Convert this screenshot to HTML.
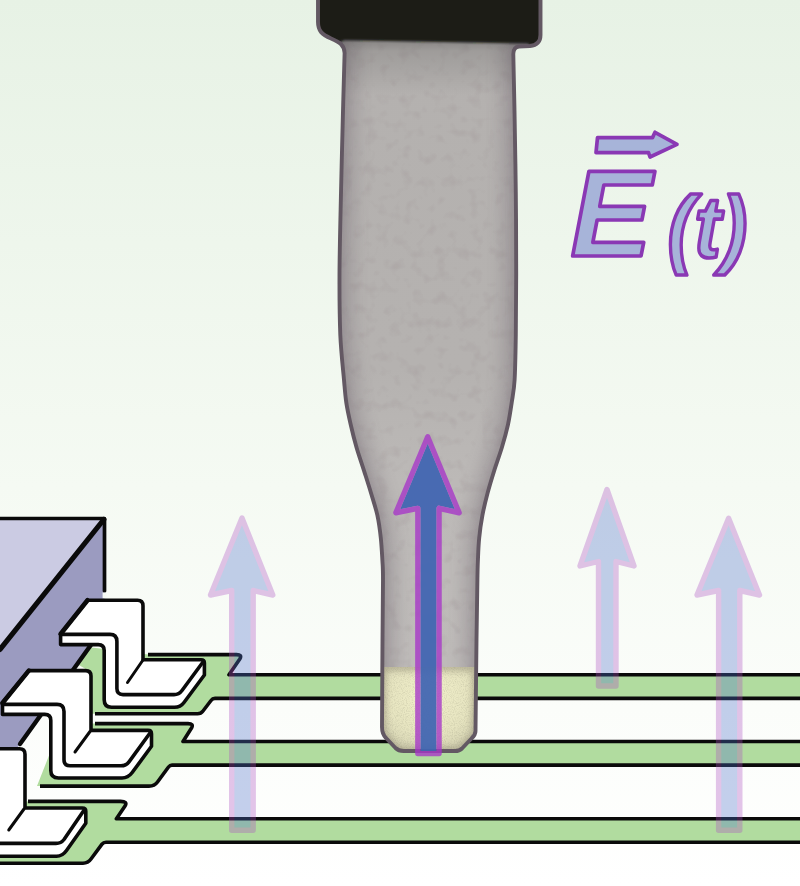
<!DOCTYPE html>
<html>
<head>
<meta charset="utf-8">
<title>E(t) probe diagram</title>
<style>
html,body{margin:0;padding:0;background:#fff;}
body{width:800px;height:886px;overflow:hidden;font-family:"Liberation Sans",sans-serif;}
svg{display:block;position:absolute;left:0;top:0;}
.mul{mix-blend-mode:multiply;}
</style>
</head>
<body>
<svg width="800" height="886" viewBox="0 0 800 886">
<defs>
  <linearGradient id="bg" x1="0" y1="0" x2="0" y2="1">
    <stop offset="0" stop-color="#e7f2e5"/>
    <stop offset="0.55" stop-color="#f5faf3"/>
    <stop offset="0.8" stop-color="#fbfdfa"/>
    <stop offset="1" stop-color="#ffffff"/>
  </linearGradient>
  <linearGradient id="probeG" gradientUnits="userSpaceOnUse" x1="0" y1="40" x2="0" y2="752">
    <stop offset="0" stop-color="#b4b1af"/>
    <stop offset="0.46" stop-color="#b5b2b0"/>
    <stop offset="0.62" stop-color="#bcb9b7"/>
    <stop offset="1" stop-color="#bfbcba"/>
  </linearGradient>
  <linearGradient id="shade" x1="0" y1="0" x2="0" y2="1">
    <stop offset="0" stop-color="#000" stop-opacity="0.3"/>
    <stop offset="0.25" stop-color="#000" stop-opacity="0.12"/>
    <stop offset="1" stop-color="#000" stop-opacity="0"/>
  </linearGradient>
  <radialGradient id="cream" cx="0.5" cy="0.35" r="0.75">
    <stop offset="0" stop-color="#f1efca"/>
    <stop offset="0.6" stop-color="#e6e4c0"/>
    <stop offset="1" stop-color="#cfcdae"/>
  </radialGradient>
  <filter id="soft" x="-5%" y="-5%" width="110%" height="110%"><feGaussianBlur stdDeviation="0.6"/></filter>
  <filter id="soft1" x="-5%" y="-5%" width="110%" height="110%"><feGaussianBlur stdDeviation="1"/></filter>
  <filter id="soft8" x="-15%" y="-15%" width="130%" height="130%"><feGaussianBlur stdDeviation="7"/></filter>
  <filter id="soft3" x="-10%" y="-10%" width="120%" height="120%"><feGaussianBlur stdDeviation="3"/></filter>
  <filter id="grain" x="0" y="0" width="100%" height="100%" color-interpolation-filters="sRGB">
    <feTurbulence type="fractalNoise" baseFrequency="0.9" numOctaves="2" seed="3" result="n"/>
    <feColorMatrix type="matrix" values="0 0 0 0 0  0 0 0 0 0  0 0 0 0 0  0.9 0 0 0 -0.38"/>
  </filter>
  <filter id="mottle" x="0" y="0" width="100%" height="100%" color-interpolation-filters="sRGB">
    <feTurbulence type="fractalNoise" baseFrequency="0.085" numOctaves="2" seed="11" result="n"/>
    <feColorMatrix type="matrix" values="0 0 0 0 0.60  0 0 0 0 0.55  0 0 0 0 0.56  3 0 0 0 -1.58"/>
  </filter>
  <clipPath id="clipUnion"><path d="M318,-6 L318,22 C318,31 322,34.5 331,38.5 C340,42.5 344.3,45 344.6,53 C344.3,62.7 343.6,87.7 343.0,111.0 C342.4,134.3 341.6,165.8 341.0,193.0 C340.4,220.2 339.6,250.3 339.5,274.0 C339.4,297.7 339.6,317.3 340.3,335.0 C341.1,352.7 343.0,368.7 344.0,380.0 C345.0,391.3 345.2,395.1 346.3,402.6 C347.4,410.1 349.1,417.5 350.8,425.0 C352.5,432.5 354.4,440.1 356.6,447.7 C358.8,455.2 361.5,462.8 363.9,470.3 C366.3,477.9 368.8,485.5 371.0,493.0 C373.2,500.5 375.8,507.9 377.4,515.4 C379.0,522.9 380.0,530.5 380.8,538.0 C381.6,545.5 382.0,553.6 382.4,560.6 C382.8,567.6 383.0,566.8 383.0,580.0 C383.0,593.2 382.7,615.5 382.5,640.0 C382.3,664.5 382.1,712.5 382.0,727.0 Q382,734 386,738 L395.5,748 Q398.5,751 403.5,751 L455,751 Q459.5,751 462,748.5 L471.5,738.5 Q475.5,735 475.5,731 C475.7,715.8 476.2,665.2 476.5,640.0 C476.8,614.8 477.2,593.2 477.4,580.0 C477.6,566.8 477.6,567.6 477.9,560.6 C478.2,553.6 478.4,545.5 479.2,538.0 C479.9,530.5 481.0,522.9 482.4,515.4 C483.8,507.9 485.6,500.5 487.6,493.0 C489.6,485.5 491.9,477.9 494.3,470.3 C496.7,462.8 499.5,455.2 501.8,447.7 C504.1,440.1 506.2,432.5 507.9,425.0 C509.5,417.5 510.6,410.1 511.7,402.6 C512.8,395.1 513.9,391.3 514.6,380.0 C515.3,368.7 515.5,352.7 515.8,335.0 C516.1,317.3 516.2,297.7 516.2,274.0 C516.2,250.3 516.1,220.2 515.8,193.0 C515.5,165.8 514.9,134.2 514.5,111.0 C514.1,87.8 513.5,63.5 513.3,54.0 Q513.5,47 519,46.5 L530,46 Q540.5,45 540.5,35 L540.5,-6 Z"/></clipPath>
  <clipPath id="clipTip"><path d="M382.3,667 L476.2,667 L475.5,731 Q475.5,735 471.5,738.5 L462,748.5 Q459.5,751 455,751 L403.5,751 Q398.5,751 395.5,748 L386,738 Q382,734 382,729 Z"/></clipPath>
  <clipPath id="clipHolder"><path d="M318,-6 L318,22 C318,31 322,34.5 331,38.5 L340,42.3 L344,40.3 L528,43.6 L530,46 Q540.5,45 540.5,35 L540.5,-6 Z"/></clipPath>
</defs>

<!-- background -->
<rect x="0" y="0" width="800" height="886" fill="url(#bg)"/>

<!-- ===== green traces ===== -->
<g id="traces" fill="#b1dc9f" stroke="none">
  <path d="M88,647 L148,654.6 L236.5,654.6 Q242.5,654.6 239.8,659 L229,674.8 L800,674.8 L800,698.4 L215,698.4 Q212.5,698.4 211,700.5 L203,711 Q201,713.8 197.5,713.8 L95,713.8 L91,713.8 L91,672 L77,664 Z"/>
  <path d="M91,723.6 L188,723.6 Q194,723.6 191.5,728 L183,741.5 L800,741.5 L800,765.1 L172,765.1 Q170,765.1 168.5,767 L157.5,782 Q154.5,786.1 149,786.1 L37,786.1 L50,753 L52,725 Z"/>
  <path d="M25,801.4 L120.5,801.4 Q128,801.4 125,806 L116.4,818.8 L800,818.8 L800,842.2 L106,842.2 Q103.5,842.2 102,844.2 L91,859 Q88,863.2 83,863.2 L0,863.2 L0,801.4 Z"/>
</g>
<g id="traceLines" fill="none" stroke="#0a0a0a" stroke-width="3.6" stroke-linejoin="round" stroke-linecap="butt">
  <path d="M148,654.6 L236.5,654.6 Q242.5,654.6 239.8,659 L229,674.8 L800,674.8"/>
  <path d="M800,698.4 L215,698.4 Q212.5,698.4 211,700.5 L203,711 Q201,713.8 197.5,713.8 L95,713.8"/>
  <path d="M95,723.6 L188,723.6 Q194,723.6 191.5,728 L183,741.5 L800,741.5"/>
  <path d="M800,765.1 L172,765.1 Q170,765.1 168.5,767 L157.5,782 Q154.5,786.1 149,786.1 L40,786.1"/>
  <path d="M28,801.4 L120.5,801.4 Q128,801.4 125,806 L116.4,818.8 L800,818.8"/>
  <path d="M800,842.2 L106,842.2 Q103.5,842.2 102,844.2 L91,859 Q88,863.2 83,863.2 L0,863.2"/>
</g>

<!-- ===== package ===== -->
<g id="package">
  <polygon points="0,519 104.5,519 0,649" fill="#cbcbe3"/>
  <polygon points="104.5,519 104.5,626 20,744 0,772 0,649" fill="#9b9bc0"/>
  <g fill="none" stroke="#0a0a0a" stroke-width="3.7" stroke-linecap="round" stroke-linejoin="round">
    <path d="M0,518.5 L104.5,518.5 L104.5,591"/>
    <path d="M103.8,519.5 L0,649.5" stroke-width="5.2"/>
    <path d="M104.5,626 L20,744" stroke-width="4.4"/>
  </g>
  <rect x="102.6" y="592.5" width="4" height="6" fill="#f6faf5"/>
</g>

<!-- ===== leads ===== -->
<g id="leads" stroke="#0a0a0a" stroke-width="3.6" stroke-linejoin="round" stroke-linecap="round">
  <!-- lead 1 -->
  <path fill="#ffffff" d="M87.5,600.3 L137.5,600.3 Q143,600.3 143,605.8 L143,659.7 L201,659.7 Q204.4,659.7 204.4,663 L204.4,675 L184,702.5 Q180.5,707.3 174.5,707.3 L111.5,707.3 Q104.2,707.3 104.2,699.8 L104.2,650.5 Q104.2,644.6 98.2,644.6 L60.6,644.6 L60.6,634 Z"/>
  <path fill="none" d="M60.6,634.4 L110,634.4 Q116.9,634.4 116.9,641.5 L116.9,688.6 Q116.9,694.6 123,694.6 L174,694.6 Q179,694.6 182,690.5 L203,662"/>
  <path fill="none" d="M143,660 L127.5,682.5" stroke-width="3"/>
  <path fill="none" d="M87.5,600.3 L60.6,634" stroke-width="4.6"/>
  <!-- lead 2 -->
  <path fill="#ffffff" d="M28.8,670.6 L85.5,670.6 Q91,670.6 91,676.1 L91,730.4 L148,730.4 Q151.5,730.4 151.5,734 L151.5,746.3 L132,772.8 Q128,778 122,778 L58.5,778 Q50.8,778 50.8,770.5 L50.8,720.4 Q50.8,714.4 44.8,714.4 L2.5,714.4 L2.5,703 Z"/>
  <path fill="none" d="M2.5,704.4 L57,704.4 Q64,704.4 64,711.4 L64,759.8 Q64,765.8 70,765.8 L121,765.8 Q126,765.8 129,761.8 L150,733"/>
  <path fill="none" d="M90,731.5 L75,752" stroke-width="3"/>
  <path fill="none" d="M28.8,670.6 L2.5,703" stroke-width="4.6"/>
  <!-- lead 3 -->
  <path fill="#ffffff" d="M-10,748.7 L19.5,748.7 Q25,748.7 25,754.2 L25,808 L82.3,808 Q85.8,808 85.8,811.3 L85.8,823.3 L66.5,850.5 Q62.5,856.2 56.5,856.2 L-10,856.2 Z"/>
  <path fill="none" d="M-10,843.4 L56,843.4 Q61,843.4 64,839.5 L84,810.3"/>
  <path fill="none" d="M24,809 L8.75,830" stroke-width="3"/>
</g>

<!-- ===== left pale arrow ===== -->
<g id="arrowL" opacity="0.33">
  <path d="M242,518 L272.8,595 L253.2,590.5 L253.2,830.3 L231.7,830.3 L231.7,590.5 L210.5,595 Z" fill="#4f71cb" stroke="#ac50c2" stroke-width="5.4" stroke-linejoin="round"/>
</g>

<!-- ===== probe ===== -->
<g id="probe">
  <path d="M318,-6 L318,22 C318,31 322,34.5 331,38.5 C340,42.5 344.3,45 344.6,53 C344.3,62.7 343.6,87.7 343.0,111.0 C342.4,134.3 341.6,165.8 341.0,193.0 C340.4,220.2 339.6,250.3 339.5,274.0 C339.4,297.7 339.6,317.3 340.3,335.0 C341.1,352.7 343.0,368.7 344.0,380.0 C345.0,391.3 345.2,395.1 346.3,402.6 C347.4,410.1 349.1,417.5 350.8,425.0 C352.5,432.5 354.4,440.1 356.6,447.7 C358.8,455.2 361.5,462.8 363.9,470.3 C366.3,477.9 368.8,485.5 371.0,493.0 C373.2,500.5 375.8,507.9 377.4,515.4 C379.0,522.9 380.0,530.5 380.8,538.0 C381.6,545.5 382.0,553.6 382.4,560.6 C382.8,567.6 383.0,566.8 383.0,580.0 C383.0,593.2 382.7,615.5 382.5,640.0 C382.3,664.5 382.1,712.5 382.0,727.0 Q382,734 386,738 L395.5,748 Q398.5,751 403.5,751 L455,751 Q459.5,751 462,748.5 L471.5,738.5 Q475.5,735 475.5,731 C475.7,715.8 476.2,665.2 476.5,640.0 C476.8,614.8 477.2,593.2 477.4,580.0 C477.6,566.8 477.6,567.6 477.9,560.6 C478.2,553.6 478.4,545.5 479.2,538.0 C479.9,530.5 481.0,522.9 482.4,515.4 C483.8,507.9 485.6,500.5 487.6,493.0 C489.6,485.5 491.9,477.9 494.3,470.3 C496.7,462.8 499.5,455.2 501.8,447.7 C504.1,440.1 506.2,432.5 507.9,425.0 C509.5,417.5 510.6,410.1 511.7,402.6 C512.8,395.1 513.9,391.3 514.6,380.0 C515.3,368.7 515.5,352.7 515.8,335.0 C516.1,317.3 516.2,297.7 516.2,274.0 C516.2,250.3 516.1,220.2 515.8,193.0 C515.5,165.8 514.9,134.2 514.5,111.0 C514.1,87.8 513.5,63.5 513.3,54.0 Q513.5,47 519,46.5 L530,46 Q540.5,45 540.5,35 L540.5,-6 Z" fill="url(#probeG)"/>
  <g clip-path="url(#clipUnion)">
    <rect x="310" y="0" width="240" height="760" filter="url(#mottle)" opacity="0.22"/>
    <path d="M318,-6 L318,22 C318,31 322,34.5 331,38.5 C340,42.5 344.3,45 344.6,53 C344.3,62.7 343.6,87.7 343.0,111.0 C342.4,134.3 341.6,165.8 341.0,193.0 C340.4,220.2 339.6,250.3 339.5,274.0 C339.4,297.7 339.6,317.3 340.3,335.0 C341.1,352.7 343.0,368.7 344.0,380.0 C345.0,391.3 345.2,395.1 346.3,402.6 C347.4,410.1 349.1,417.5 350.8,425.0 C352.5,432.5 354.4,440.1 356.6,447.7 C358.8,455.2 361.5,462.8 363.9,470.3 C366.3,477.9 368.8,485.5 371.0,493.0 C373.2,500.5 375.8,507.9 377.4,515.4 C379.0,522.9 380.0,530.5 380.8,538.0 C381.6,545.5 382.0,553.6 382.4,560.6 C382.8,567.6 383.0,566.8 383.0,580.0 C383.0,593.2 382.7,615.5 382.5,640.0 C382.3,664.5 382.1,712.5 382.0,727.0 Q382,734 386,738 L395.5,748 Q398.5,751 403.5,751 L455,751 Q459.5,751 462,748.5 L471.5,738.5 Q475.5,735 475.5,731 C475.7,715.8 476.2,665.2 476.5,640.0 C476.8,614.8 477.2,593.2 477.4,580.0 C477.6,566.8 477.6,567.6 477.9,560.6 C478.2,553.6 478.4,545.5 479.2,538.0 C479.9,530.5 481.0,522.9 482.4,515.4 C483.8,507.9 485.6,500.5 487.6,493.0 C489.6,485.5 491.9,477.9 494.3,470.3 C496.7,462.8 499.5,455.2 501.8,447.7 C504.1,440.1 506.2,432.5 507.9,425.0 C509.5,417.5 510.6,410.1 511.7,402.6 C512.8,395.1 513.9,391.3 514.6,380.0 C515.3,368.7 515.5,352.7 515.8,335.0 C516.1,317.3 516.2,297.7 516.2,274.0 C516.2,250.3 516.1,220.2 515.8,193.0 C515.5,165.8 514.9,134.2 514.5,111.0 C514.1,87.8 513.5,63.5 513.3,54.0 Q513.5,47 519,46.5 L530,46 Q540.5,45 540.5,35 L540.5,-6 Z" fill="none" stroke="#7d737b" stroke-width="30" filter="url(#soft8)" opacity="0.3"/>
    <path d="M318,-6 L318,22 C318,31 322,34.5 331,38.5 C340,42.5 344.3,45 344.6,53 C344.3,62.7 343.6,87.7 343.0,111.0 C342.4,134.3 341.6,165.8 341.0,193.0 C340.4,220.2 339.6,250.3 339.5,274.0 C339.4,297.7 339.6,317.3 340.3,335.0 C341.1,352.7 343.0,368.7 344.0,380.0 C345.0,391.3 345.2,395.1 346.3,402.6 C347.4,410.1 349.1,417.5 350.8,425.0 C352.5,432.5 354.4,440.1 356.6,447.7 C358.8,455.2 361.5,462.8 363.9,470.3 C366.3,477.9 368.8,485.5 371.0,493.0 C373.2,500.5 375.8,507.9 377.4,515.4 C379.0,522.9 380.0,530.5 380.8,538.0 C381.6,545.5 382.0,553.6 382.4,560.6 C382.8,567.6 383.0,566.8 383.0,580.0 C383.0,593.2 382.7,615.5 382.5,640.0 C382.3,664.5 382.1,712.5 382.0,727.0 Q382,734 386,738 L395.5,748 Q398.5,751 403.5,751 L455,751 Q459.5,751 462,748.5 L471.5,738.5 Q475.5,735 475.5,731 C475.7,715.8 476.2,665.2 476.5,640.0 C476.8,614.8 477.2,593.2 477.4,580.0 C477.6,566.8 477.6,567.6 477.9,560.6 C478.2,553.6 478.4,545.5 479.2,538.0 C479.9,530.5 481.0,522.9 482.4,515.4 C483.8,507.9 485.6,500.5 487.6,493.0 C489.6,485.5 491.9,477.9 494.3,470.3 C496.7,462.8 499.5,455.2 501.8,447.7 C504.1,440.1 506.2,432.5 507.9,425.0 C509.5,417.5 510.6,410.1 511.7,402.6 C512.8,395.1 513.9,391.3 514.6,380.0 C515.3,368.7 515.5,352.7 515.8,335.0 C516.1,317.3 516.2,297.7 516.2,274.0 C516.2,250.3 516.1,220.2 515.8,193.0 C515.5,165.8 514.9,134.2 514.5,111.0 C514.1,87.8 513.5,63.5 513.3,54.0 Q513.5,47 519,46.5 L530,46 Q540.5,45 540.5,35 L540.5,-6 Z" fill="none" stroke="#7d737b" stroke-width="9" filter="url(#soft3)" opacity="0.3"/>
  </g>
  <path d="M382.3,667 L476.2,667 L475.5,731 Q475.5,735 471.5,738.5 L462,748.5 Q459.5,751 455,751 L403.5,751 Q398.5,751 395.5,748 L386,738 Q382,734 382,729 Z" fill="url(#cream)"/>
  <g clip-path="url(#clipTip)">
    <rect x="378" y="664" width="104" height="92" filter="url(#grain)" opacity="0.24"/>
    <path d="M382.3,667 L476.2,667 L475.5,731 Q475.5,735 471.5,738.5 L462,748.5 Q459.5,751 455,751 L403.5,751 Q398.5,751 395.5,748 L386,738 Q382,734 382,729 Z" fill="none" stroke="#8a8470" stroke-width="8" filter="url(#soft3)" opacity="0.5"/>
  </g>
  <g clip-path="url(#clipUnion)">
    <rect x="330" y="36" width="200" height="60" fill="url(#shade)"/>
    <path d="M318,-6 L318,22 C318,31 322,34.5 331,38.5 L340,42.3 L344,40.3 L528,43.6 L530,46 Q540.5,45 540.5,35 L540.5,-6 Z" fill="#1a1c17" filter="url(#soft1)"/>
  </g>
  <path d="M318,-6 L318,22 C318,31 322,34.5 331,38.5 C340,42.5 344.3,45 344.6,53 C344.3,62.7 343.6,87.7 343.0,111.0 C342.4,134.3 341.6,165.8 341.0,193.0 C340.4,220.2 339.6,250.3 339.5,274.0 C339.4,297.7 339.6,317.3 340.3,335.0 C341.1,352.7 343.0,368.7 344.0,380.0 C345.0,391.3 345.2,395.1 346.3,402.6 C347.4,410.1 349.1,417.5 350.8,425.0 C352.5,432.5 354.4,440.1 356.6,447.7 C358.8,455.2 361.5,462.8 363.9,470.3 C366.3,477.9 368.8,485.5 371.0,493.0 C373.2,500.5 375.8,507.9 377.4,515.4 C379.0,522.9 380.0,530.5 380.8,538.0 C381.6,545.5 382.0,553.6 382.4,560.6 C382.8,567.6 383.0,566.8 383.0,580.0 C383.0,593.2 382.7,615.5 382.5,640.0 C382.3,664.5 382.1,712.5 382.0,727.0 Q382,734 386,738 L395.5,748 Q398.5,751 403.5,751 L455,751 Q459.5,751 462,748.5 L471.5,738.5 Q475.5,735 475.5,731 C475.7,715.8 476.2,665.2 476.5,640.0 C476.8,614.8 477.2,593.2 477.4,580.0 C477.6,566.8 477.6,567.6 477.9,560.6 C478.2,553.6 478.4,545.5 479.2,538.0 C479.9,530.5 481.0,522.9 482.4,515.4 C483.8,507.9 485.6,500.5 487.6,493.0 C489.6,485.5 491.9,477.9 494.3,470.3 C496.7,462.8 499.5,455.2 501.8,447.7 C504.1,440.1 506.2,432.5 507.9,425.0 C509.5,417.5 510.6,410.1 511.7,402.6 C512.8,395.1 513.9,391.3 514.6,380.0 C515.3,368.7 515.5,352.7 515.8,335.0 C516.1,317.3 516.2,297.7 516.2,274.0 C516.2,250.3 516.1,220.2 515.8,193.0 C515.5,165.8 514.9,134.2 514.5,111.0 C514.1,87.8 513.5,63.5 513.3,54.0 Q513.5,47 519,46.5 L530,46 Q540.5,45 540.5,35 L540.5,-6 Z" fill="none" stroke="#635963" stroke-width="3.9" stroke-linejoin="round" filter="url(#soft)"/>
</g>

<!-- ===== right pale arrows ===== -->
<g id="arrowsR" opacity="0.33" fill="#4f71cb" stroke="#ac50c2" stroke-width="5.4" stroke-linejoin="round">
  <path d="M607,489.5 L634,566 L616,561.5 L616,686 L598.5,686 L598.5,561.5 L580,566 Z"/>
  <path d="M728.6,518.3 L759.5,595 L739.8,590.5 L739.8,830.3 L718.6,830.3 L718.6,590.5 L697,595 Z"/>
</g>

<!-- ===== main blue arrow ===== -->
<g id="arrowMain">
  <mask id="mArrow" maskUnits="userSpaceOnUse" x="380" y="420" width="100" height="350">
    <path d="M427.7,436.8 L459.2,512.8 L439.1,508.3 L439.1,753.6 L417.8,753.6 L417.8,508.3 L395.8,512.8 Z" fill="#fff" stroke="#000" stroke-width="5.3" stroke-linejoin="round"/>
  </mask>
  <rect x="380" y="420" width="100" height="350" fill="#3f64b2" fill-opacity="0.93" mask="url(#mArrow)"/>
  <path d="M427.7,436.8 L459.2,512.8 L439.1,508.3 L439.1,753.6 L417.8,753.6 L417.8,508.3 L395.8,512.8 Z" fill="none" stroke="#a635c8" stroke-opacity="0.78" stroke-width="5.3" stroke-linejoin="round"/>
</g>

<!-- ===== E(t) label ===== -->
<g id="label" fill="#a7b4d9" stroke="#8a38b4" stroke-width="3.7" stroke-linejoin="round" font-family="'Liberation Sans',sans-serif" font-weight="bold" font-style="italic">
  <path d="M597.5,137.65 L652.5,137.65 L655,132.3 L677,144.3 L650,157 L648.5,152.6 L596,152.6 Z"/>
  <text x="570.5" y="255.6" font-size="122">E</text>
  <text transform="translate(667.5,256.5) scale(0.91,1)" x="0" y="0" font-size="88">(t)</text>
</g>
</svg>
</body>
</html>
